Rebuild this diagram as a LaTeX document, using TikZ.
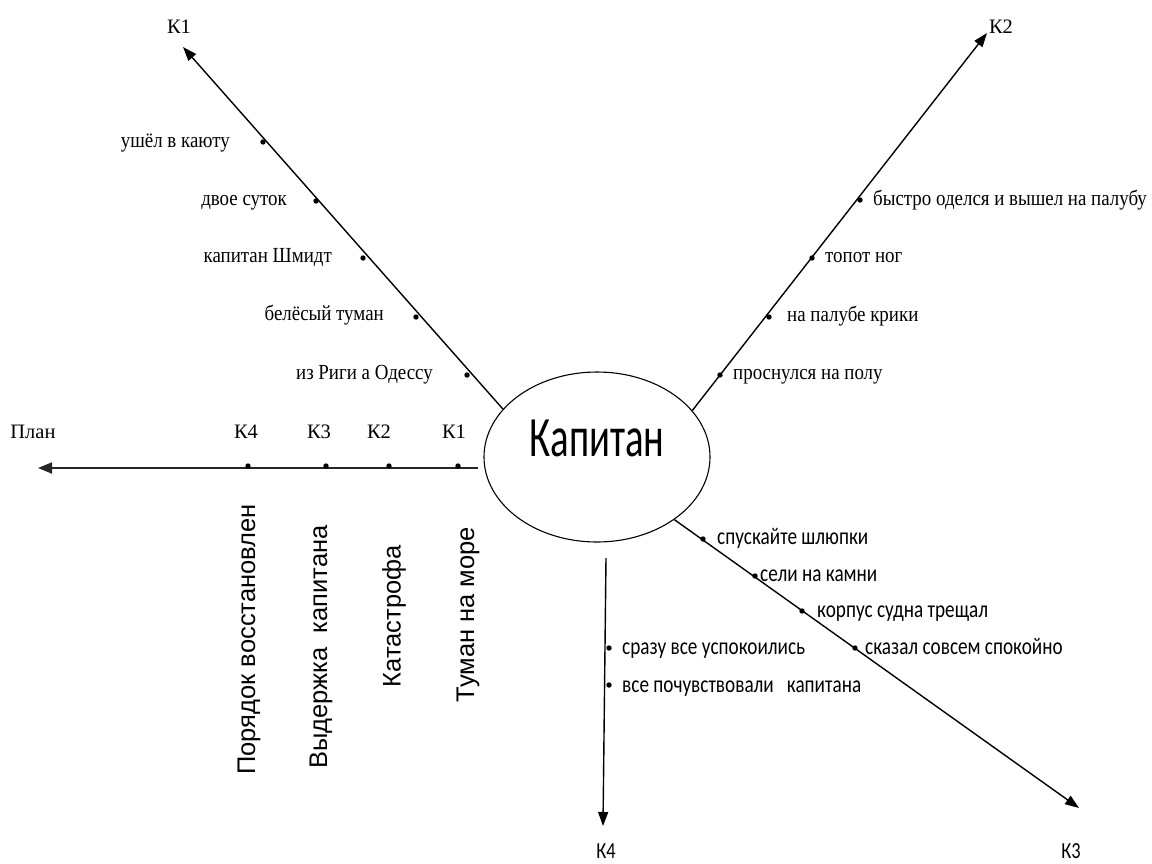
\documentclass[tikz,border=0pt]{standalone}
\usepackage{fontspec}
\setmainfont{Liberation Serif}
\newfontfamily\srffont[FakeStretch=0.88]{Liberation Serif}
\newfontfamily\calfont[FakeStretch=0.8]{Carlito}
\newfontfamily\capfont[FakeStretch=0.68]{Carlito}
\newfontfamily\arsfont{Liberation Sans}
\usetikzlibrary{arrows.meta,shapes.geometric}

\tikzset{
  axis/.style={line width=1.4pt, -{Triangle[length=14pt,width=10pt]}},
  planaxis/.style={line width=1.9pt, draw=black!85, -{Triangle[length=14pt,width=11pt]}},
  dot/.style={circle, fill=black, inner sep=0pt, minimum size=5.4pt},
  slbl/.style={inner sep=0pt, font=\srffont\fontsize{21.5}{25}\selectfont},
  clbl/.style={inner sep=0pt, font=\calfont\fontsize{24}{28}\selectfont},
  vlbl/.style={inner sep=0pt, rotate=90, anchor=east, font=\arsfont\fontsize{25.5}{29}\selectfont},
  tag/.style={inner sep=0pt, font=\fontsize{20.5}{24}\selectfont},
  ctag/.style={inner sep=0pt, font=\calfont\fontsize{23}{26}\selectfont}
}

\begin{document}
\begin{tikzpicture}[x=1pt,y=-1pt]
\useasboundingbox[fill=white] (0,0) rectangle (1152,863);

% central ellipse
\node[draw, ellipse, line width=1.1pt, minimum width=226pt, minimum height=170pt, inner sep=0pt] (cap) at (597,457) {};
\node[inner sep=0pt, font=\capfont\fontsize{57}{60}\selectfont] (captxt) at (597,438) {Капитан};

% axis end points
\coordinate (k1s) at (cap.153.7);
\coordinate (k1e) at (183,47);
\coordinate (k2s) at (cap.26.1);
\coordinate (k2e) at (987,33);
\coordinate (k3s) at (cap.-39);
\coordinate (k3e) at (1079,808);
\coordinate (k4s) at (606,558);
\coordinate (k4e) at (603,826);
\coordinate (pls) at (478,468);
\coordinate (ple) at (38,468);

\draw[axis] (k1s) -- (k1e);
\draw[axis] (k2s) -- (k2e);
\draw[axis] (k3s) -- (k3e);
\draw[axis] (k4s) -- (k4e);
\draw[planaxis] (pls) -- (ple);

% axis end labels
\node[tag] (t1) at (179,27) {К1};
\node[tag] (t2) at (1001,27) {К2};
\node[ctag] (t3) at (1071,851) {К3};
\node[ctag] (t4) at (606,851) {К4};

% K1 branch
\node[dot] (a1) at (263,142) {};
\node[dot] (a2) at (316,201) {};
\node[dot] (a3) at (363,258) {};
\node[dot] (a4) at (416,317) {};
\node[dot] (a5) at (467,375) {};
\node[slbl, anchor=mid east] (la1) at (230,145) {ушёл в каюту};
\node[slbl, anchor=mid east] (la2) at (287,203) {двое суток};
\node[slbl, anchor=mid east] (la3) at (332,260) {капитан Шмидт};
\node[slbl, anchor=mid east] (la4) at (384,318) {белёсый туман};
\node[slbl, anchor=mid east] (la5) at (433,377) {из Риги а Одессу};

% K2 branch
\node[dot] (b1) at (860,200) {};
\node[dot] (b2) at (812,258) {};
\node[dot] (b3) at (769,317) {};
\node[dot] (b4) at (720,375) {};
\node[slbl, anchor=mid west] (lb1) at (873,203) {быстро оделся и вышел на палубу};
\node[slbl, anchor=mid west] (lb2) at (825,260) {топот ног};
\node[slbl, anchor=mid west] (lb3) at (787,319) {на палубе крики};
\node[slbl, anchor=mid west] (lb4) at (733,377) {проснулся на полу};

% K3 branch
\node[dot] (c1) at (703,539) {};
\node[dot] (c2) at (755,576) {};
\node[dot] (c3) at (802,611) {};
\node[dot] (c4) at (855,648) {};
\node[clbl, anchor=mid west] (lc1) at (717,542) {спускайте шлюпки};
\node[clbl, anchor=mid west] (lc2) at (760,579) {сели на камни};
\node[clbl, anchor=mid west] (lc3) at (817,615) {корпус судна трещал};
\node[clbl, anchor=mid west] (lc4) at (865,652) {сказал совсем спокойно};

% K4 branch
\node[dot] (e1) at (609,648) {};
\node[dot] (e2) at (609,685) {};
\node[clbl, anchor=mid west] (le1) at (622,652) {сразу все успокоились};
\node[clbl, anchor=mid west] (le2) at (622,690) {все почувствовали\ \ \ капитана};

% plan line
\node[tag] (pl) at (33,432) {План};
\node[tag] (p4) at (246,432) {К4};
\node[tag] (p3) at (319,432) {К3};
\node[tag] (p2) at (379,432) {К2};
\node[tag] (p1) at (454,432) {К1};
\node[dot] (q4) at (248,466) {};
\node[dot] (q3) at (326,466) {};
\node[dot] (q2) at (389,466) {};
\node[dot] (q1) at (458,466) {};
\node[vlbl] (v4) at (249,504) {Порядок восстановлен};
\node[vlbl] (v3) at (321,525) {Выдержка\ \ капитана};
\node[vlbl] (v2) at (394,545) {Катастрофа};
\node[vlbl] (v1) at (468,527) {Туман на море};
\end{tikzpicture}
\end{document}
